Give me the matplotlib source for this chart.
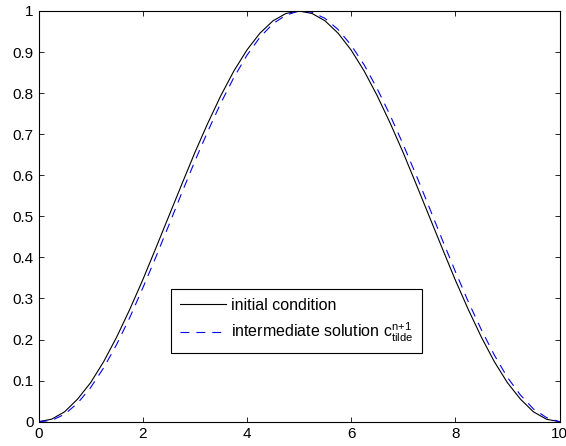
import matplotlib
matplotlib.use("Agg")
import matplotlib.pyplot as plt

plt.rcParams['font.family'] = ['Liberation Sans', 'DejaVu Sans']
plt.rcParams['mathtext.fontset'] = 'custom'
plt.rcParams['mathtext.rm'] = 'Liberation Sans'
plt.rcParams['mathtext.it'] = 'Liberation Sans'

x = [0.00, 0.25, 0.50, 0.75, 1.00, 1.25, 1.50, 1.75, 2.00, 2.25,
     2.50, 2.75, 3.00, 3.25, 3.50, 3.75, 4.00, 4.25, 4.50, 4.75,
     5.00, 5.25, 5.50, 5.75, 6.00, 6.25, 6.50, 6.75, 7.00, 7.25,
     7.50, 7.75, 8.00, 8.25, 8.50, 8.75, 9.00, 9.25, 9.50, 9.75, 10.00]

initial = [0.000, 0.006, 0.024, 0.055, 0.095, 0.146, 0.206, 0.273, 0.345, 0.422,
           0.500, 0.578, 0.655, 0.727, 0.794, 0.854, 0.905, 0.946, 0.976, 0.994,
           1.000, 0.994, 0.976, 0.946, 0.905, 0.854, 0.794, 0.727, 0.655, 0.578,
           0.500, 0.422, 0.345, 0.273, 0.206, 0.146, 0.095, 0.055, 0.024, 0.006, 0.000]

intermediate = [0.000, 0.003, 0.018, 0.045, 0.083, 0.131, 0.188, 0.253, 0.325, 0.400,
                0.478, 0.557, 0.634, 0.707, 0.776, 0.838, 0.892, 0.936, 0.969, 0.990,
                1.000, 0.997, 0.982, 0.955, 0.917, 0.869, 0.811, 0.746, 0.675, 0.600,
                0.522, 0.443, 0.366, 0.292, 0.224, 0.162, 0.108, 0.065, 0.031, 0.010, 0.000]

xticks = [0, 2, 4, 6, 8, 10]
yticks = [0, 0.1, 0.2, 0.3, 0.4, 0.5, 0.6, 0.7, 0.8, 0.9, 1]
ytick_labels = ['0', '0.1', '0.2', '0.3', '0.4', '0.5', '0.6', '0.7', '0.8', '0.9', '1']

W, H = 566, 446
fig = plt.figure(figsize=(W / 100, H / 100), dpi=100)
left, right, top, bottom = 38.5, 559.5, 11.0, 421.7
ax = fig.add_axes([left / W, 1 - bottom / H, (right - left) / W, (bottom - top) / H])

ax.plot(x, initial, color='black', lw=0.8, label='initial condition')
ax.plot(x, intermediate, color='#0000ff', lw=0.8, linestyle=(0, (8, 6.3)),
        label=r'intermediate solution c$_{\rm tilde}^{\rm n{+}1}$')

ax.set_xlim(0, 10)
ax.set_ylim(0, 1)
ax.set_xticks(xticks)
ax.set_xticklabels([str(t) for t in xticks])
ax.set_yticks(yticks)
ax.set_yticklabels(ytick_labels)
ax.tick_params(direction='in', length=3.6, width=0.6, labelsize=11, top=True, right=True,
               pad=3.5, colors='black')
for s in ax.spines.values():
    s.set_linewidth(0.8)

leg_x0 = (171 - left) / (right - left)
leg_y0 = (bottom - 289) / (bottom - top)
leg = ax.legend(loc='upper left', bbox_to_anchor=(leg_x0, leg_y0), borderaxespad=0,
                fancybox=False, framealpha=1, edgecolor='black', fontsize=11.5,
                handlelength=2.9, handletextpad=0.3, borderpad=0.55, labelspacing=0.5)
leg.get_frame().set_linewidth(0.8)

fig.savefig('out.png', dpi=100)
